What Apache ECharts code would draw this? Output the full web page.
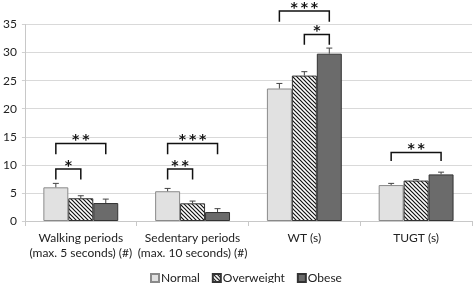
<!DOCTYPE html>
<html><head><meta charset="utf-8">
<script src="https://cdn.jsdelivr.net/npm/echarts@6/dist/echarts.min.js"></script>
<style>html,body{margin:0;padding:0;background:#fff}#c{width:473px;height:283px}</style>
</head><body><div id="c"></div>
<script>
const categories = ['Walking periods\n(max. 5 seconds) (#)', 'Sedentary periods\n(max. 10 seconds) (#)', 'WT (s)', 'TUGT (s)'];
const seriesNames = ['Normal', 'Overweight', 'Obese'];
const normalVals = [6.0, 5.3, 23.6, 6.4];
const overweightVals = [4.05, 3.15, 25.9, 7.2];
const obeseVals = [3.2, 1.6, 29.8, 8.3];
const normalErrTop = [6.7, 5.8, 24.5, 6.7];
const overweightErrTop = [4.5, 3.55, 26.6, 7.4];
const obeseErrTop = [3.9, 2.2, 30.8, 8.7];
const yTicks = [0, 5, 10, 15, 20, 25, 30, 35];
// significance brackets: [category, fromGroup, toGroup, topValue, armBottomValue, label]
const brackets = [
  [0, 0, 2, 13.8, 11.9, '**'],
  [0, 0, 1, 9.25, 7.4, '*'],
  [1, 0, 2, 13.8, 11.9, '***'],
  [1, 0, 1, 9.25, 7.4, '**'],
  [2, 0, 2, 37.4, 35.5, '***'],
  [2, 1, 2, 33.2, 31.4, '*'],
  [3, 0, 2, 12.2, 10.7, '**']
];

const FONT = 'Lato';
const GAP = 0.33;

function hatch() {
  const s = 4;
  const cv = document.createElement('canvas');
  cv.width = s; cv.height = s;
  const ctx = cv.getContext('2d');
  ctx.fillStyle = '#fff'; ctx.fillRect(0, 0, s, s);
  ctx.strokeStyle = '#111'; ctx.lineWidth = 1.2;
  ctx.beginPath();
  ctx.moveTo(-1, -1); ctx.lineTo(s + 1, s + 1);
  ctx.moveTo(-1, s - 1); ctx.lineTo(1, s + 1);
  ctx.moveTo(s - 1, -1); ctx.lineTo(s + 1, 1);
  ctx.stroke();
  return cv;
}
const hatchPattern = { image: hatch(), repeat: 'repeat' };

const styles = [
  { color: '#e1e1e1', borderColor: '#8a8a8a', borderWidth: 1 },
  { color: hatchPattern, borderColor: '#333', borderWidth: 1 },
  { color: '#6b6b6b', borderColor: '#333', borderWidth: 1 }
];
const vals = [normalVals, overweightVals, obeseVals];
const errs = [normalErrTop, overweightErrTop, obeseErrTop];

function groupX(api, cat, g) {
  const band = api.size([1, 0])[0];
  const bw = band * (1 - GAP) / 3;
  return api.coord([cat, 0])[0] + (g - 1) * bw;
}

const series = [];
for (let g = 0; g < 3; g++) {
  series.push({
    name: seriesNames[g], type: 'bar', data: vals[g],
    itemStyle: styles[g], barGap: '0%', barCategoryGap: (GAP * 100) + '%',
    z: 2
  });
}
for (let g = 0; g < 3; g++) {
  series.push({
    type: 'custom', silent: true, z: 3,
    data: categories.map((c, i) => [i, vals[g][i], errs[g][i]]),
    renderItem: (params, api) => {
      const cat = api.value(0);
      const x = groupX(api, cat, g);
      const y0 = api.coord([cat, api.value(1)])[1];
      const y1 = api.coord([cat, api.value(2)])[1];
      const st = { stroke: '#444', lineWidth: 1 };
      return { type: 'group', children: [
        { type: 'line', shape: { x1: x, y1: y0, x2: x, y2: y1 }, style: st },
        { type: 'line', shape: { x1: x - 3, y1: y1, x2: x + 3, y2: y1 }, style: st }
      ]};
    },
    encode: { x: 0, y: 2 }
  });
}
series.push({
  type: 'custom', silent: true, z: 4, clip: false,
  data: brackets,
  renderItem: (params, api) => {
    const cat = api.value(0);
    const xa = groupX(api, cat, api.value(1));
    const xb = groupX(api, cat, api.value(2));
    const yt = api.coord([cat, api.value(3)])[1];
    const yb = api.coord([cat, api.value(4)])[1];
    const label = brackets[params.dataIndex][5].split('').join('\u2009');
    return { type: 'group', children: [
      { type: 'polyline', shape: { points: [[xa, yb], [xa, yt], [xb, yt], [xb, yb]] },
        style: { stroke: '#111', lineWidth: 1.5, fill: null } },
      { type: 'text', style: { text: label, x: (xa + xb) / 2, y: yt + 4,
        align: 'center', verticalAlign: 'bottom', fill: '#111',
        font: 'bold 14px "DejaVu Sans"' } }
    ]};
  },
  encode: { x: 0, y: 3 }
});

const chart = echarts.init(document.getElementById('c'), null, { renderer: 'canvas' });
chart.setOption({
  animation: false,
  textStyle: { fontFamily: FONT },
  grid: { left: 22, right: 1, top: 24.5, bottom: 62, containLabel: false },
  legend: {
    data: seriesNames, top: 272, left: 150, itemWidth: 8, itemHeight: 8,
    itemGap: 12, icon: 'rect', padding: 0,
    textStyle: { fontFamily: FONT, fontSize: 12, lineHeight: 8, color: '#222', padding: [0, 0, 0, -3] }
  },
  xAxis: {
    type: 'category', data: categories,
    axisLine: { lineStyle: { color: '#c8c8c8' } },
    axisTick: { show: true, length: 5, lineStyle: { color: '#c8c8c8' } },
    axisLabel: { interval: 0, color: '#222', fontSize: 12, fontFamily: FONT, lineHeight: 15, margin: 10 }
  },
  yAxis: {
    type: 'value', min: 0, max: 35, interval: 5,
    axisLine: { show: true, lineStyle: { color: '#c8c8c8' } },
    axisTick: { show: true, length: 3, lineStyle: { color: '#d0d0d0' } },
    splitLine: { lineStyle: { color: '#d9d9d9' } },
    axisLabel: { color: '#222', fontSize: 12, fontFamily: FONT, margin: 8,
      formatter: v => yTicks.includes(v) ? String(v) : '' }
  },
  series
});
</script></body></html>
